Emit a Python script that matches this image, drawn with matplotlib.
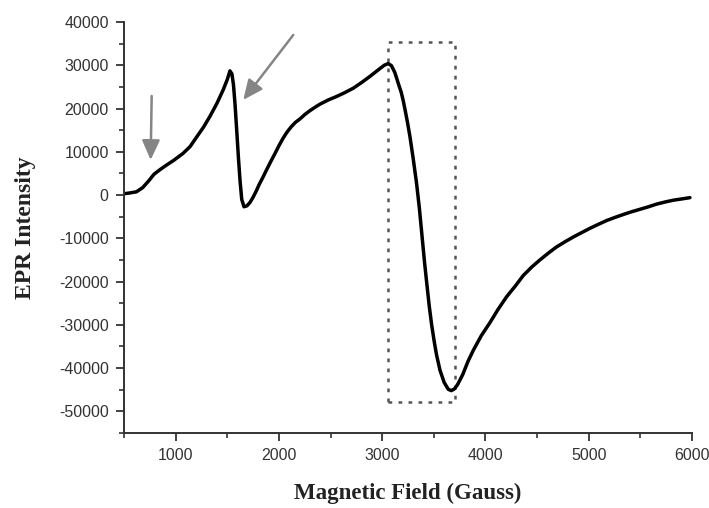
import matplotlib
matplotlib.use("Agg")
import matplotlib.pyplot as plt
from matplotlib.patches import Rectangle
from matplotlib.ticker import MultipleLocator

plt.rcParams["axes.unicode_minus"] = False

# EPR spectrum: magnetic field (G) vs. signal intensity
field = [500, 560, 620, 680, 740, 790, 850, 910, 980, 1070, 1140, 1200, 1270,
         1330, 1400, 1460, 1500, 1526, 1545, 1560, 1575, 1590, 1607, 1623, 1640,
         1662, 1690, 1720, 1750, 1780, 1810, 1845, 1880, 1920, 1960, 2000, 2042,
         2080, 2120, 2160, 2204, 2250, 2300, 2350, 2397, 2480, 2560, 2640, 2720,
         2800, 2880, 2960, 3020, 3058, 3090, 3123, 3160, 3185, 3204, 3225, 3245,
         3269, 3300, 3333, 3360, 3382, 3410, 3430, 3455, 3479, 3505, 3527, 3560,
         3600, 3640, 3670, 3700, 3730, 3780, 3830, 3882, 3960, 4043, 4120, 4205,
         4290, 4366, 4450, 4527, 4610, 4688, 4770, 4850, 4930, 5011, 5090, 5172,
         5250, 5334, 5410, 5495, 5580, 5656, 5740, 5817, 5900, 5980]
intensity = [300, 500, 750, 1700, 3300, 4800, 5900, 6900, 8000, 9600, 11200,
             13300, 15700, 18100, 21200, 24300, 26700, 28700, 28000, 25500, 21000,
             15500, 9000, 3500, -1000, -2700, -2500, -1700, -500, 900, 2500, 4100,
             5800, 7700, 9500, 11400, 13200, 14600, 15800, 16800, 17600, 18600,
             19500, 20300, 21000, 22000, 22800, 23700, 24700, 26000, 27400, 28900,
             30000, 30400, 29900, 28300, 25500, 23700, 21800, 19300, 16800, 13500,
             8500, 2700, -3000, -8500, -15500, -20000, -25500, -30000, -34000,
             -37000, -40500, -43300, -44900, -45200, -44800, -43800, -41500, -38500,
             -35900, -32500, -29500, -26500, -23500, -21000, -18600, -16600, -15000,
             -13400, -12000, -10800, -9700, -8700, -7700, -6800, -5900, -5200,
             -4500, -3900, -3300, -2700, -2100, -1600, -1200, -900, -600]

# arrows marking the weak features: (tail, head) in data units
arrow_low = ((768, 22900), (758, 8100))
arrow_mid = ((2139, 37000), (1655, 22000))

# dashed box around the main resonance
box_field = (3056, 3704)
box_intensity = (-47800, 35400)

fig = plt.figure(figsize=(7.09, 5.08), dpi=100)
ax = fig.add_axes([0.1749, 0.1476, 0.8011, 0.8091])

ax.plot(field, intensity, color="black", lw=2.5,
        solid_joinstyle="round", solid_capstyle="round")

for (tail, head) in (arrow_low, arrow_mid):
    ax.annotate("", xy=head, xytext=tail,
                arrowprops=dict(arrowstyle="-|>,head_length=0.6,head_width=0.27",
                                mutation_scale=20, color="#858585", lw=1.8,
                                shrinkA=0, shrinkB=0))

ax.add_patch(Rectangle((box_field[0], box_intensity[0]),
                       box_field[1] - box_field[0],
                       box_intensity[1] - box_intensity[0],
                       fill=False, edgecolor="#555555", lw=1.8,
                       linestyle=(0, (1.5, 2.5))))

ax.set_xlim(500, 6000)
ax.set_ylim(-55000, 40000)
ax.xaxis.set_major_locator(MultipleLocator(1000))
ax.xaxis.set_minor_locator(MultipleLocator(500))
ax.yaxis.set_major_locator(MultipleLocator(10000))
ax.yaxis.set_minor_locator(MultipleLocator(5000))
ax.set_yticks(range(-50000, 40001, 10000))

for side in ("top", "right"):
    ax.spines[side].set_visible(False)
for side in ("left", "bottom"):
    ax.spines[side].set_linewidth(1.4)
    ax.spines[side].set_color("#333333")

ax.tick_params(which="major", length=6, width=1.3, color="#333333",
               labelsize=11.5, labelcolor="#333333", pad=5)
ax.tick_params(which="minor", length=3.5, width=1.2, color="#333333")
for lab in ax.get_xticklabels() + ax.get_yticklabels():
    lab.set_family("Liberation Sans")

ax.set_xlabel("Magnetic Field (Gauss)", family="Liberation Serif",
              fontweight="bold", fontsize=16.5, color="#222222")
ax.set_ylabel("EPR Intensity", family="Liberation Serif",
              fontweight="bold", fontsize=17, color="#222222")
ax.xaxis.set_label_coords(0.5, -0.12)
ax.yaxis.set_label_coords(-0.155, 0.50)

fig.savefig("out.png", dpi=100)
